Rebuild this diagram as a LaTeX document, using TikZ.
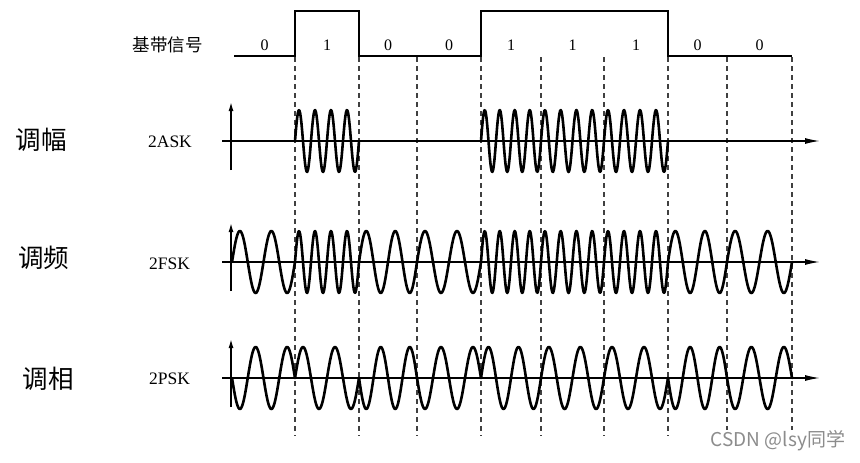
\documentclass[tikz,border=0pt]{standalone}
\usepackage{fontspec}
\setmainfont{Liberation Serif}
\newfontfamily\cjk{Noto Sans CJK SC}
\usetikzlibrary{arrows.meta}

\begin{document}
\begin{tikzpicture}[x=1pt, y=-1pt,
  wave/.style={line width=2.6pt, line cap=round, line join=round},
  haxis/.style={line width=1.4pt, -{Latex[length=15pt, width=6pt]}},
  vaxis/.style={line width=1.4pt, -{Latex[length=9pt, width=5pt]}},
  guide/.style={black!75, line width=1.3pt, dash pattern=on 5pt off 4pt},
  rowlbl/.style={font=\cjk\fontsize{25.5}{26}\selectfont},
  modlbl/.style={font=\fontsize{17.5}{18}\selectfont},
  bitlbl/.style={font=\fontsize{16}{16}\selectfont}
]
\useasboundingbox (0,0) rectangle (860,463);

% linhas tracejadas nos limites dos bits
\foreach \xb in {295,359,417,481,541,604,668,727,792}
  \draw[guide] (\xb,57) -- (\xb,436);

% sinal de banda base
\node[font=\cjk\fontsize{17.5}{18}\selectfont] (base) at (167.5,45) {基带信号};
\draw[line width=2pt] (234,56) -- (295,56) -- (295,11) -- (359,11) -- (359,56)
  -- (481,56) -- (481,11) -- (668,11) -- (668,56) -- (792,56);
\foreach \a/\b/\v [count=\i] in {234/295/0, 295/359/1, 359/417/0, 417/481/0,
    481/541/1, 541/604/1, 604/668/1, 668/727/0, 727/792/0}
  \node[bitlbl] (bit\i) at ({(\a+\b)/2},45) {\v};

% rótulos das linhas
\node[rowlbl] (tiaofu) at (41.5,140) {调幅};
\node[rowlbl] (tiaopin) at (44,258) {调频};
\node[rowlbl] (tiaoxiang) at (48.5,379) {调相};
\node[modlbl] (ask) at (170,142) {2ASK};
\node[modlbl] (fsk) at (169.5,264) {2FSK};
\node[modlbl] (psk) at (169.5,379) {2PSK};

% eixos
\foreach \ya in {141,262,378} {
  \draw[haxis] (222,\ya) -- (820,\ya);
  \draw[vaxis] (231,\ya+29) -- (231,\ya-39);
}

% 2ASK
\foreach \a/\b/\v in {232/295/0, 295/359/1, 359/417/0, 417/481/0,
    481/541/1, 541/604/1, 604/668/1, 668/727/0, 727/792/0} {
  \ifnum\v=1
    \draw[wave] plot[domain=\a:\b, samples=90]
      (\x, {141-31*sin(1440*((\x-\a)/(\b-\a)))});
  \fi
}

% 2FSK
\foreach \a/\b/\v in {232/295/0, 295/359/1, 359/417/0, 417/481/0,
    481/541/1, 541/604/1, 604/668/1, 668/727/0, 727/792/0} {
  \pgfmathsetmacro\c{2+2*\v}
  \draw[wave] plot[domain=\a:\b, samples=90]
    (\x, {262-31*sin(360*\c*((\x-\a)/(\b-\a)))});
}

% 2PSK
\foreach \a/\b/\v in {232/295/0, 295/359/1, 359/417/0, 417/481/0,
    481/541/1, 541/604/1, 604/668/1, 668/727/0, 727/792/0} {
  \pgfmathsetmacro\s{2*\v-1}
  \draw[wave] plot[domain=\a:\b, samples=90]
    (\x, {378-(\s)*31*sin(720*((\x-\a)/(\b-\a)))});
}

% marca d'água
\node[text=black!45, fill=white, inner sep=1pt, font=\cjk\fontsize{19}{19}\selectfont] (marca) at (778,441) {CSDN @lsy同学};

\end{tikzpicture}
\end{document}
